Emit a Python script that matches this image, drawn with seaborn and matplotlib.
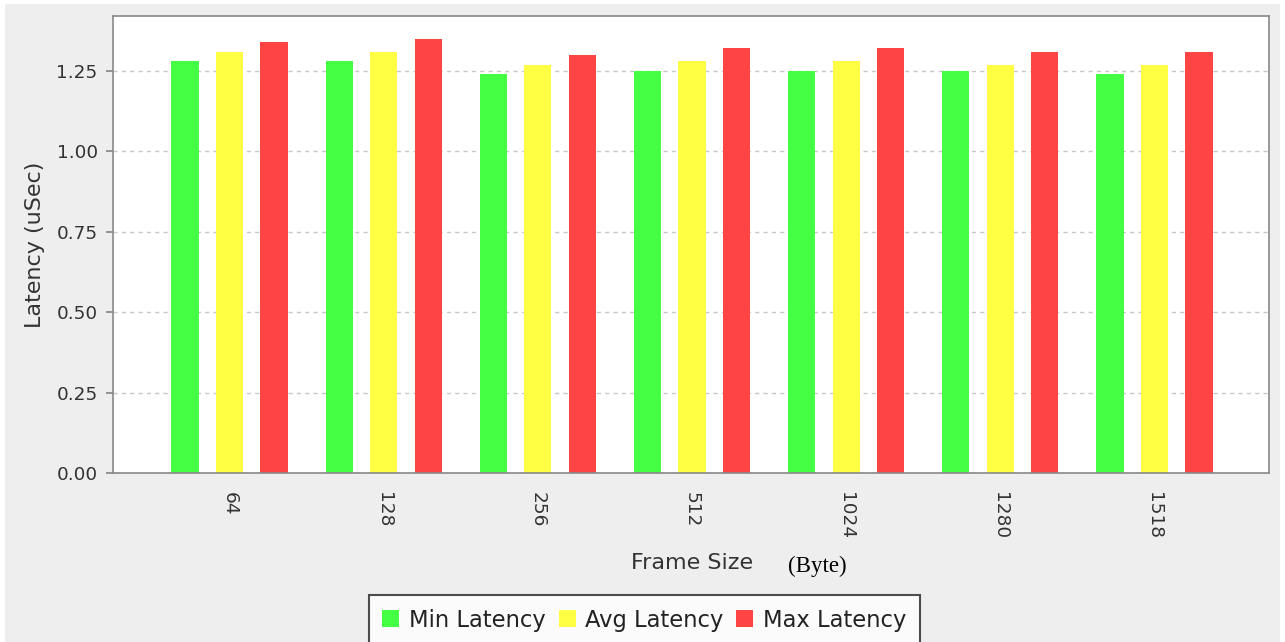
import matplotlib
matplotlib.use("Agg")
import matplotlib.pyplot as plt
import seaborn as sns
import pandas as pd
from matplotlib.patches import Rectangle, Patch

frame_sizes = ["64", "128", "256", "512", "1024", "1280", "1518"]
min_latency = [1.28, 1.28, 1.24, 1.25, 1.25, 1.25, 1.24]
avg_latency = [1.31, 1.31, 1.27, 1.28, 1.28, 1.27, 1.27]
max_latency = [1.34, 1.35, 1.30, 1.32, 1.32, 1.31, 1.31]
series_names = ["Min Latency", "Avg Latency", "Max Latency"]
colors = ["#44ff44", "#ffff44", "#ff4444"]
y_ticks = [0.00, 0.25, 0.50, 0.75, 1.00, 1.25]

rows = []
for name, vals in zip(series_names, [min_latency, avg_latency, max_latency]):
    for fs, v in zip(frame_sizes, vals):
        rows.append({"Frame Size": fs, "Latency": v, "Series": name})
df = pd.DataFrame(rows)

sns.set_theme(style="white")
plt.rcParams["font.family"] = ["DejaVu Sans"]

fig = plt.figure(figsize=(12.85, 6.42), dpi=100, facecolor="white")
fig.patches.append(Rectangle((5 / 1285, 0), 1275 / 1285, 638 / 642,
                             transform=fig.transFigure, facecolor="#eeeeee",
                             edgecolor="none", zorder=-10))
ax = fig.add_axes([113 / 1285, (642 - 473) / 642, (1269 - 113) / 1285, (473 - 16) / 642])
ax.set_facecolor("white")

sns.barplot(data=df, x="Frame Size", y="Latency", hue="Series", order=frame_sizes,
            hue_order=series_names, palette=colors, width=0.866, gap=0.39,
            saturation=1, edgecolor="none", legend=False, ax=ax)

ax.set_xlim(-0.756, 6.743)
ax.set_ylim(0, 1.421)
ax.set_yticks(y_ticks)
ax.set_yticklabels([f"{t:.2f}" for t in y_ticks], fontsize=13.3, color="#333333")
ax.yaxis.grid(True, linestyle=(0, (3, 3)), color="#c8c8c8", linewidth=1.0)
ax.set_axisbelow(True)
ax.tick_params(axis="y", left=True, length=5, color="#888888", pad=6)
ax.tick_params(axis="x", bottom=False, pad=8)
for lbl in ax.get_xticklabels():
    lbl.set_rotation(-90)
    lbl.set_fontsize(13.3)
    lbl.set_color("#333333")
    lbl.set_va("top")
for s in ax.spines.values():
    s.set_color("#888888")
    s.set_linewidth(1.2)
ax.set_xlabel("")
ax.set_ylabel("Latency (uSec)", fontsize=16, color="#333333", labelpad=8)

fig.text(692 / 1285, 1 - 563 / 642, "Frame Size", ha="center", va="center",
         fontsize=16, color="#333333")
fig.text(817 / 1285, 1 - 566 / 642, "(Byte)", ha="center", va="center",
         fontsize=16.5, family=["Liberation Serif", "DejaVu Serif"], color="black")

handles = [Patch(facecolor=c, edgecolor="none", label=n) for c, n in zip(colors, series_names)]
leg = fig.legend(handles=handles, loc="upper center", bbox_to_anchor=(644.5 / 1285, 1 - 595 / 642),
                 ncol=3, frameon=True, fancybox=False, fontsize=16.3, handlelength=0.75,
                 handleheight=0.75, handletextpad=0.44, columnspacing=0.55, borderpad=0.6,
                 borderaxespad=0)
leg.get_frame().set_edgecolor("#222222")
leg.get_frame().set_linewidth(1.5)
leg.get_frame().set_facecolor("white")
for t in leg.get_texts():
    t.set_color("#222222")

fig.savefig("out.png", dpi=100, facecolor=fig.get_facecolor())
